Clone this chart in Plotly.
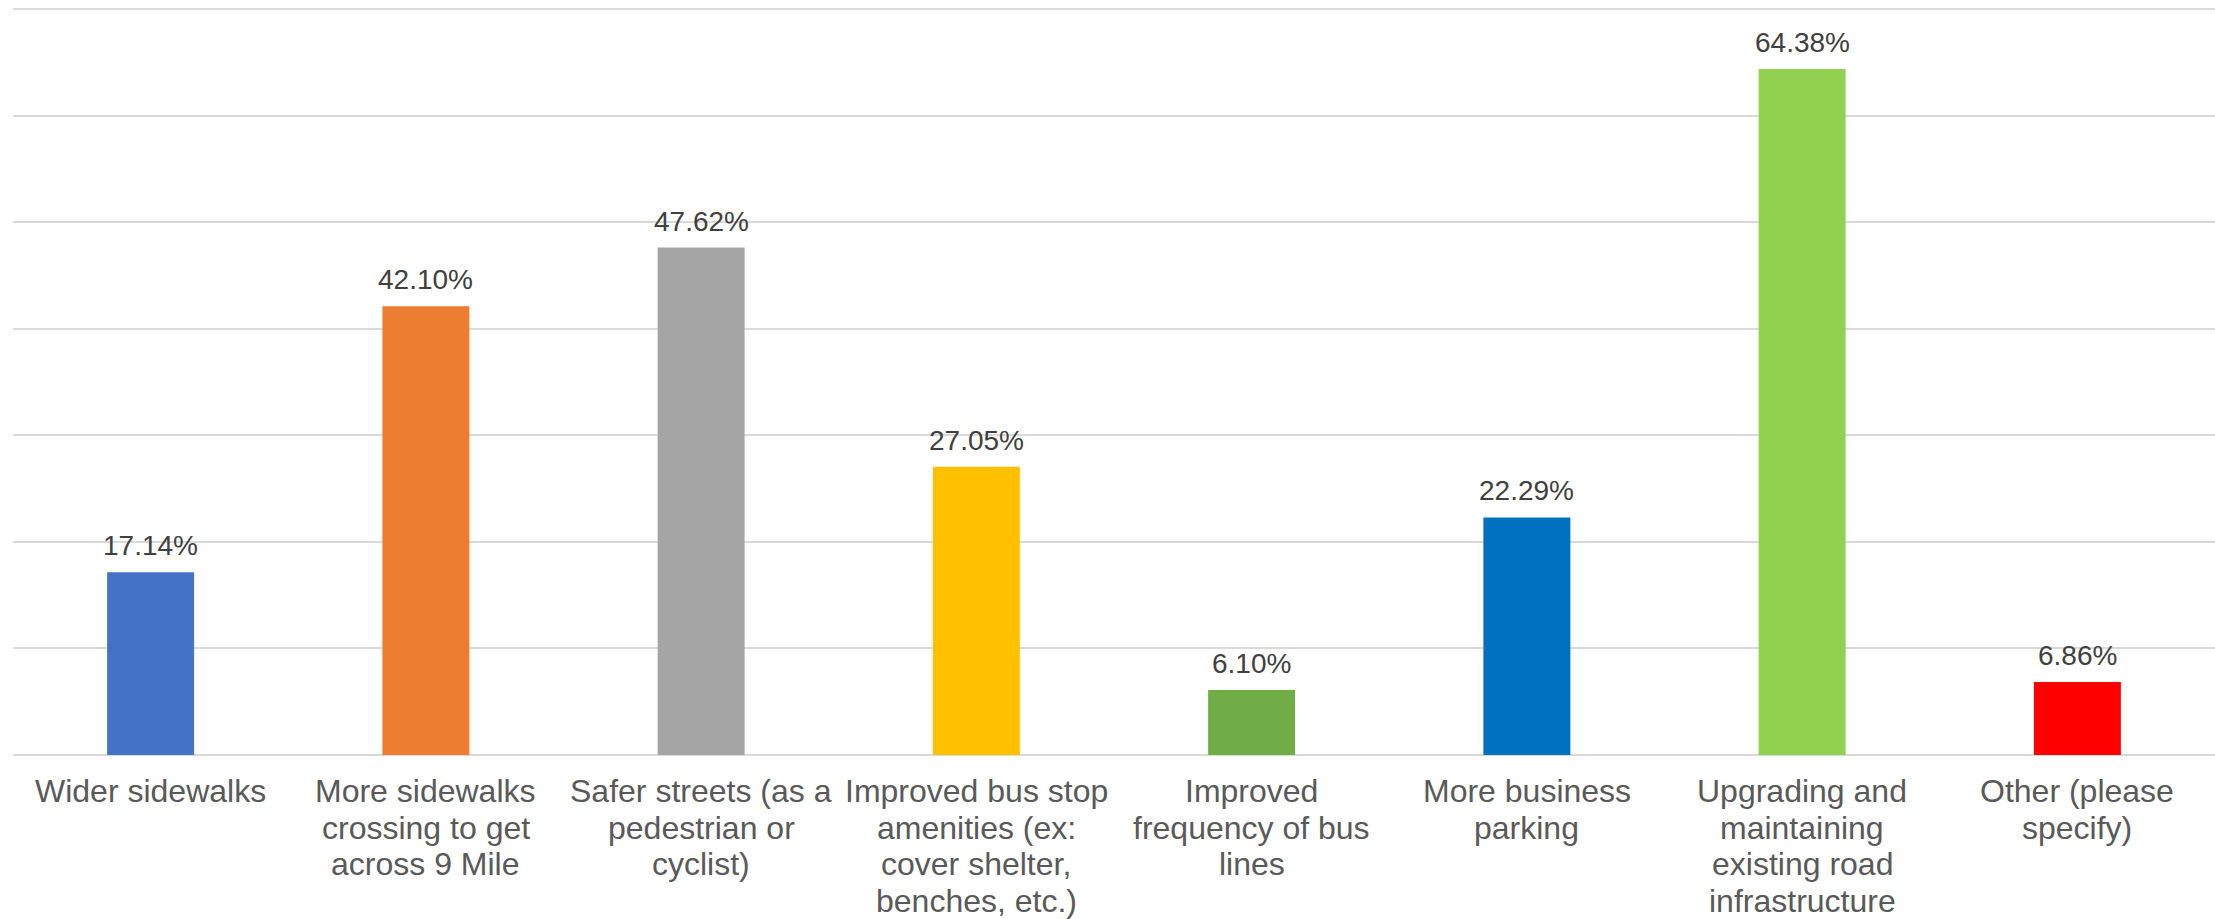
import plotly.graph_objects as go

categories = [
    "Wider sidewalks",
    "More sidewalks<br>crossing to get<br>across 9 Mile",
    "Safer streets (as a<br>pedestrian or<br>cyclist)",
    "Improved bus stop<br>amenities (ex:<br>cover shelter,<br>benches, etc.)",
    "Improved<br>frequency of bus<br>lines",
    "More business<br>parking",
    "Upgrading and<br>maintaining<br>existing road<br>infrastructure",
    "Other (please<br>specify)",
]
values = [17.14, 42.10, 47.62, 27.05, 6.10, 22.29, 64.38, 6.86]
colors = ["#4472C4", "#ED7D31", "#A5A5A5", "#FFC000", "#70AD47", "#0070C0", "#92D050", "#FF0000"]

FONT = "Liberation Sans, Arial, sans-serif"
x_idx = list(range(len(categories)))

fig = go.Figure(
    go.Bar(
        x=x_idx,
        y=values,
        marker=dict(color=colors, line=dict(width=0)),
        width=0.316,
        hoverinfo="skip",
    )
)

annotations = []
# data labels
for i, v in zip(x_idx, values):
    annotations.append(dict(
        x=i, y=v, xref="x", yref="y", text=f"{v:.2f}%", showarrow=False,
        yanchor="bottom", xanchor="center", yshift=9,
        font=dict(family=FONT, size=28, color="#404040"),
    ))
# category labels, line by line
LINE_H = 36.5
for i, cat in zip(x_idx, categories):
    for j, line in enumerate(cat.split("<br>")):
        annotations.append(dict(
            x=i, y=0, xref="x", yref="y", text=line, showarrow=False,
            yanchor="top", xanchor="center", yshift=-(16 + j * LINE_H),
            font=dict(family=FONT, size=32, color="#595959"),
        ))

fig.update_layout(
    width=2215, height=919,
    margin=dict(l=13, r=0, t=8, b=164),
    paper_bgcolor="white", plot_bgcolor="white",
    showlegend=False,
    annotations=annotations,
    font=dict(family=FONT),
    xaxis=dict(
        range=[-0.5, len(categories) - 0.5],
        showticklabels=False, showgrid=False, zeroline=False, showline=False,
        ticks="",
    ),
    yaxis=dict(
        range=[0, 70.1], dtick=10, tick0=0,
        showticklabels=False, showgrid=True, gridcolor="#d9d9d9", gridwidth=2,
        zeroline=True, zerolinecolor="#d9d9d9", zerolinewidth=2,
        showline=False, ticks="",
    ),
)

fig.write_html("out.html")
